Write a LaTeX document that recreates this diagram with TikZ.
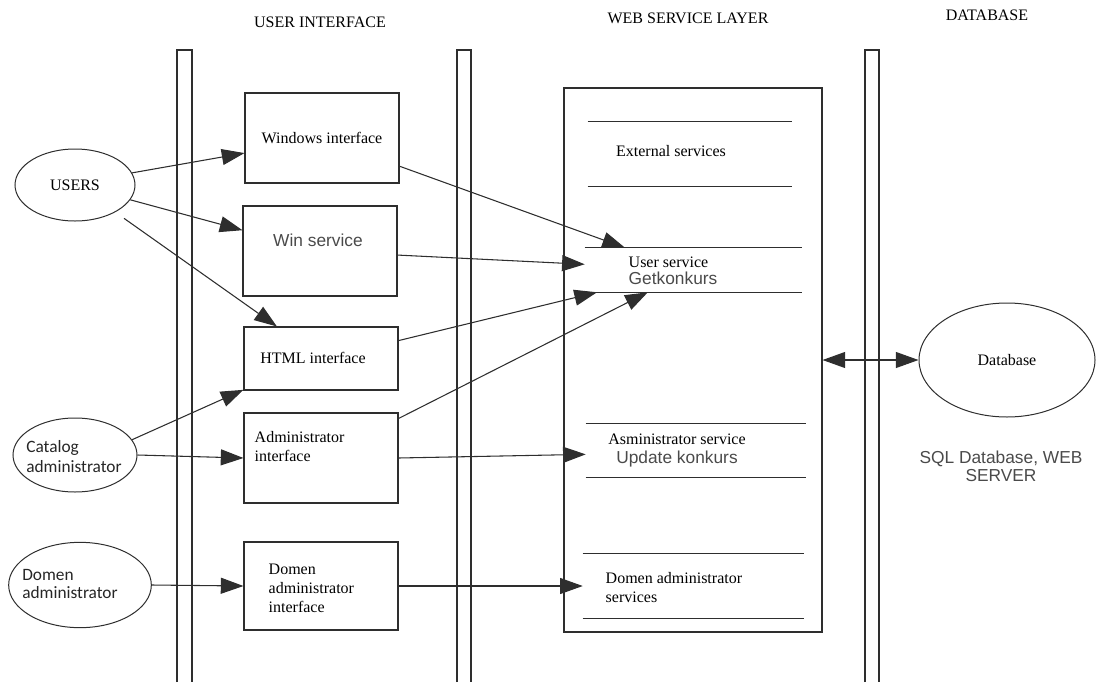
\documentclass[tikz,border=0pt]{standalone}
\usepackage{fontspec}
\setmainfont{Liberation Serif}
\setsansfont{Liberation Sans}
\newfontfamily\calibfont{Carlito}
\usepackage{xcolor}
\usepackage{tikz}
\usetikzlibrary{
  arrows.meta,
  shapes.geometric,
}

\definecolor{linegray}{HTML}{2E2E2E}
\definecolor{textgray}{HTML}{4A4A4A}

\begin{document}
\begin{tikzpicture}[
  x=0.75pt, y=-0.75pt,
  every node/.style={font=\fontsize{12}{14.25}\selectfont},
  uibox/.style={
    rectangle, draw=linegray, line width=0.8pt,
    minimum width=115.5pt, inner sep=0pt,
  },
  actor/.style={
    ellipse, draw=linegray, line width=0.75pt, inner sep=0pt,
  },
  section/.style={rectangle, inner sep=0pt},
  sanstext/.style={
    font=\sffamily\fontsize{13}{13.5}\selectfont,
    text=textgray, align=center,
  },
  actortext/.style={
    font=\calibfont\fontsize{13}{15}\selectfont,
    text=black!85, align=left,
  },
  lane/.style={draw=linegray, line width=0.8pt},
  arrow/.style={-{Triangle[length=17pt, width=12pt]}, draw=linegray, line width=0.8pt},
  dblarrow/.style={{Triangle[length=17pt, width=12pt]}-{Triangle[length=17pt, width=12pt]},
    draw=linegray, line width=0.8pt},
]
  \useasboundingbox (0,0) rectangle (1096,682);

  % Swim lane separators
  \foreach \xl/\xr in {177/192, 457/471, 865/879}
    \draw[lane] (\xl,682) -- (\xl,50) -- (\xr,50) -- (\xr,682);

  % Layer titles
  \node (uititle) at (320,22) {USER INTERFACE};
  \node (wstitle) at (688,18) {WEB SERVICE LAYER};
  \node (dbtitle) at (987,15) {DATABASE};

  % Actors
  \node[actor, minimum width=90pt, minimum height=54pt] (users) at (75,185) {USERS};
  \node[actor, minimum width=93pt, minimum height=55.5pt] (catalog) at (75,455) {};
  \node[actortext] (catalogtxt) at (74,457) {Catalog\\administrator};
  \node[actor, minimum width=107pt, minimum height=64pt] (domen) at (80,585) {};
  \node[actortext, font=\calibfont\fontsize{13}{13.5}\selectfont] (domentxt) at (70,584) {Domen\\administrator};

  % User interface layer
  \node[uibox, minimum height=67.5pt] (winif) at (322,138) {Windows interface};
  \node[uibox, minimum height=67.5pt] (winsvc) at (320,251) {};
  \node[sanstext] (winsvctxt) at (318,240) {Win service};
  \node[uibox, minimum height=47.25pt] (html) at (321,358.5) {};
  \node (htmltxt) at (313,358) {HTML interface};
  \node[uibox, minimum height=67.5pt] (adminif) at (321,458) {};
  \node[anchor=west, align=left] (adminiftxt) at (250,446.5) {Administrator\\interface};
  \node[uibox, minimum height=66pt] (domenif) at (321,586) {};
  \node[anchor=west, align=left] (domeniftxt) at (264,588) {Domen\\administrator\\interface};

  % Web service layer
  \node[rectangle, draw=linegray, line width=0.8pt, inner sep=0pt,
        minimum width=193.5pt, minimum height=408pt] (web) at (693,360) {};
  \node[section, minimum width=153pt, minimum height=48pt] (extsvc) at (690,154) {};
  \node[section, minimum width=162.75pt, minimum height=33pt] (usersvc) at (693.5,270) {};
  \node[section, minimum width=165pt, minimum height=39.75pt] (adminsvc) at (696,450.5) {};
  \node[section, minimum width=165.75pt, minimum height=48pt] (domensvc) at (693.5,586) {};
  \foreach \s in {extsvc, usersvc, adminsvc, domensvc} {
    \draw[lane] (\s.north west) -- (\s.north east);
    \draw[lane] (\s.south west) -- (\s.south east);
  }
  \node (exttxt) at (671,151) {External services};
  \node[anchor=west, align=left, font=\fontsize{12}{12.75}\selectfont] (usertxt) at (624,270.5)
    {User service\\{\sffamily\fontsize{13}{12.75}\selectfont\color{textgray}Getkonkurs}};
  \node[align=center] (admintxt) at (677,450.5)
    {Asministrator service\\{\sffamily\fontsize{13}{14.25}\selectfont\color{textgray}Update konkurs}};
  \node[anchor=west, align=left] (domensvctxt) at (601,587.5) {Domen administrator\\services};

  % Database
  \node[actor, minimum width=132pt, minimum height=85.5pt] (db) at (1007,360) {Database};
  \node[sanstext] (dbnote) at (1001,466) {SQL Database, WEB\\SERVER};

  % Arrows: users -> interfaces
  \draw[arrow] (users.12) -- (winif.191);
  \draw[arrow] (users.345) -- (winsvc.165);
  \draw[arrow, shorten <=8pt] (users.326) -- (html.144);

  % Arrows: administrators -> interfaces
  \draw[arrow] (catalog.15) -- (html.202);
  \draw[arrow] (catalog.east) -- (adminif.west);
  \draw[arrow] (domen.east) -- (domenif.west);

  % Arrows: interfaces -> services
  \draw[arrow] (winif.340) -- (usersvc.162);
  \draw[arrow] (winsvc.357) -- (usersvc.177);
  \draw[arrow] (html.13) -- (usersvc.193);
  \draw[arrow] (adminif.27) -- (usersvc.206);
  \draw[arrow] (adminif.east) -- (adminsvc.182);
  \draw[arrow] (domenif.east) -- (domensvc.west);

  % Services <-> database
  \draw[dblarrow] (web.east) -- (db.west);

\end{tikzpicture}
\end{document}
